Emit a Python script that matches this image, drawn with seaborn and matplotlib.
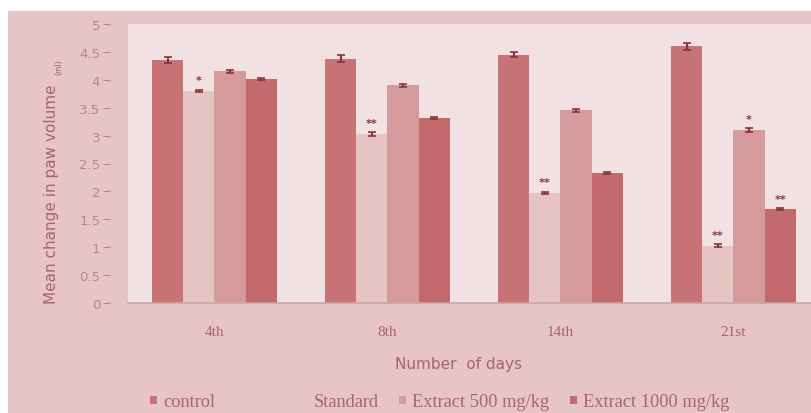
import numpy as np
import pandas as pd
import matplotlib
matplotlib.use("Agg")
import matplotlib.pyplot as plt
from matplotlib.patches import Rectangle
import seaborn as sns

# data
days = ["4th", "8th", "14th", "21st"]
groups = ["control", "Standard", "Extract 500 mg/kg", "Extract 1000 mg/kg"]
control = [4.35, 4.38, 4.45, 4.60]
standard = [3.80, 3.03, 1.97, 1.03]
extract500 = [4.15, 3.90, 3.45, 3.10]
extract1000 = [4.02, 3.32, 2.33, 1.68]
control_err = [0.05, 0.06, 0.05, 0.06]
standard_err = [0.02, 0.03, 0.02, 0.02]
extract500_err = [0.03, 0.03, 0.02, 0.03]
extract1000_err = [0.02, 0.02, 0.02, 0.02]
stars = {("Standard", "4th"): "*", ("Standard", "8th"): "**",
         ("Standard", "14th"): "**", ("Standard", "21st"): "**",
         ("Extract 500 mg/kg", "21st"): "*", ("Extract 1000 mg/kg", "21st"): "**"}

values = [control, standard, extract500, extract1000]
errors = [control_err, standard_err, extract500_err, extract1000_err]
df = pd.DataFrame({
    "day": [d for g in groups for d in days],
    "group": [g for g in groups for d in days],
    "value": [v for vals in values for v in vals],
})

colors = ["#c87476", "#e6c4c4", "#d59a9b", "#c26a6c"]
text_col = "#a86466"
tick_col = "#b3888a"
outer_bg = "#e7c5c7"
plot_bg = "#f1e1e2"

sns.set_style("white")
plt.rcParams["font.family"] = ["DejaVu Sans"]

fig = plt.figure(figsize=(8.12, 4.14), dpi=100)
fig.patch.set_facecolor("white")
fig.patches.append(Rectangle((8 / 812, 0), 1, 1 - 12 / 414, transform=fig.transFigure,
                             facecolor=outer_bg, edgecolor="none", zorder=-10))
ax = fig.add_axes([128 / 812, 1 - 304 / 414, 692 / 812, 279 / 414])
ax.set_facecolor(plot_bg)

sns.barplot(data=df, x="day", y="value", hue="group", order=days, hue_order=groups,
            palette=colors, errorbar=None, width=0.72, gap=0, saturation=1,
            linewidth=0, ax=ax, legend=True)

# error bars and significance stars on top of each bar
for cont, g, errs in zip(ax.containers, groups, errors):
    xs = [b.get_x() + b.get_width() / 2 for b in cont]
    hs = [b.get_height() for b in cont]
    ax.errorbar(xs, hs, yerr=errs, fmt="none", ecolor="#8a3438", elinewidth=1.6,
                capsize=3, capthick=1.2)
    for x, h, e, d in zip(xs, hs, errs, days):
        s = stars.get((g, d))
        if s:
            ax.text(x, h + e + 0.08, s, ha="center", va="bottom", color="#8a3438",
                    fontsize=8, fontweight="bold")

ax.set_xlim(-0.5, len(days) - 0.5)
ax.set_ylim(0, 5)
ax.set_yticks(np.arange(0, 5.01, 0.5))
ax.set_yticklabels(["0", "0.5", "1", "1.5", "2", "2.5", "3", "3.5", "4", "4.5", "5"])
ax.spines["left"].set_position(("outward", 13))
ax.spines["left"].set_visible(False)
ax.tick_params(axis="y", colors=tick_col, labelsize=9.5, length=5, width=0.8,
               direction="out", left=True, pad=2)
ax.tick_params(axis="x", colors=text_col, length=0, pad=16)
for lab in ax.get_xticklabels():
    lab.set_fontfamily("Liberation Serif")
    lab.set_fontsize(11)
for sp in ["top", "right"]:
    ax.spines[sp].set_visible(False)
ax.spines["bottom"].set_color("#c9a5a7")
ax.spines["bottom"].set_linewidth(1.2)

ax.set_xlabel("Number  of days", color=text_col, fontsize=11)
ax.xaxis.set_label_coords(0.478, -0.19)
ax.set_ylabel("Mean change in paw volume", color=text_col, fontsize=11)
ax.yaxis.set_label_coords(-0.1, 0.394)
fig.text(59 / 812, 1 - 67 / 414, "(ml)", rotation=90, color=text_col, fontsize=5.5,
         ha="center", va="center")

handles, labels = ax.get_legend_handles_labels()
ax.get_legend().remove()
leg_kw = dict(bbox_transform=fig.transFigure, frameon=False, handlelength=0.35,
              handleheight=0.35, handletextpad=0.35, columnspacing=1.15,
              prop={"family": "Liberation Serif", "size": 13.2}, labelcolor=text_col)
fig.legend(handles[:1], labels[:1], loc="center left",
           bbox_to_anchor=(134 / 812, 1 - 403 / 414), **leg_kw)
fig.legend(handles[1:], labels[1:], loc="center left", ncol=3,
           bbox_to_anchor=(284 / 812, 1 - 403 / 414), **leg_kw)

fig.savefig("out.png", dpi=100, facecolor=fig.get_facecolor())
